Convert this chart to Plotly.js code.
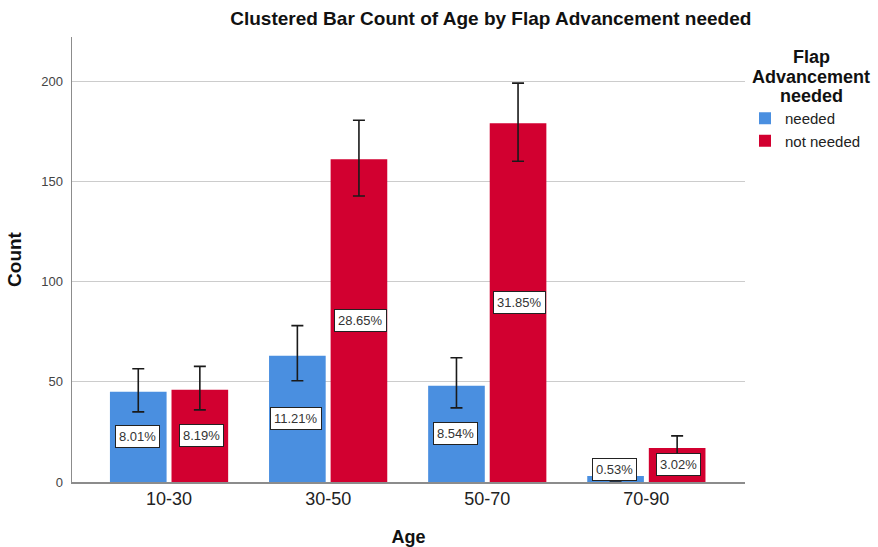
<!DOCTYPE html>
<html>
<head>
<meta charset="utf-8">
<script src="https://cdn.plot.ly/plotly-3.0.1.min.js"></script>
<style>
  html, body { margin: 0; padding: 0; background: #ffffff; }
  #chart { width: 878px; height: 547px; }
</style>
</head>
<body>
<div id="chart"></div>
<script>
// Age groups on the x axis
const ageGroups = ['10-30', '30-50', '50-70', '70-90'];

// Counts per age group
const neededCounts    = [45, 63, 48, 3];
const notNeededCounts = [46, 161, 179, 17];

// 95% confidence interval bounds for each count
const neededLow     = [35, 50.5, 37, 0.5];
const neededHigh    = [56.5, 78, 62, 6];
const notNeededLow  = [36, 142.7, 160, 11.8];
const notNeededHigh = [57.7, 180.5, 199, 23];

// Share of all cases, shown inside each bar
const neededPct    = ['8.01%', '11.21%', '8.54%', '0.53%'];
const notNeededPct = ['8.19%', '28.65%', '31.85%', '3.02%'];

const FONT = 'Liberation Sans, Arial, sans-serif';
const BLUE = '#4A8FE0';
const RED = '#D20030';

// Plot-area geometry in pixels
const PLOT_L = 72, PLOT_R = 745, PLOT_T = 37, PLOT_B = 482;
const PLOT_W = PLOT_R - PLOT_L, PLOT_H = PLOT_B - PLOT_T;

function errorBars(values, low, high) {
  return {
    type: 'data',
    symmetric: false,
    array: values.map((v, i) => high[i] - v),
    arrayminus: values.map((v, i) => v - low[i]),
    color: '#1a1a1a',
    thickness: 1.6,
    width: 6
  };
}

const traces = [
  {
    type: 'bar',
    name: 'needed',
    x: ageGroups,
    y: neededCounts,
    marker: { color: BLUE, line: { width: 0 } },
    error_y: errorBars(neededCounts, neededLow, neededHigh),
    hoverinfo: 'skip'
  },
  {
    type: 'bar',
    name: 'not needed',
    x: ageGroups,
    y: notNeededCounts,
    marker: { color: RED, line: { width: 0 } },
    error_y: errorBars(notNeededCounts, notNeededLow, notNeededHigh),
    hoverinfo: 'skip'
  }
];

// Boxed percentage labels placed at mid-height of each bar
const annotations = [];
function addPctLabels(values, labels, shift) {
  values.forEach((v, i) => {
    annotations.push({
      x: ageGroups[i],
      y: Math.max(v / 2, 6.3),
      xref: 'x', yref: 'y',
      xshift: shift,
      text: labels[i],
      showarrow: false,
      font: { family: FONT, size: 13, color: '#333333' },
      bgcolor: '#ffffff',
      bordercolor: '#222222',
      borderwidth: 1,
      borderpad: 3
    });
  });
}
addPctLabels(neededCounts, neededPct, -32);
addPctLabels(notNeededCounts, notNeededPct, 32);

// Legend heading, one line per annotation
const legendHeading = ['Flap', 'Advancement', 'needed'];
const headingY = [57, 77, 96];
legendHeading.forEach((line, k) => {
  annotations.push({
    xref: 'paper', yref: 'paper',
    x: (811 - PLOT_L) / PLOT_W,
    y: (PLOT_B - headingY[k]) / PLOT_H,
    xanchor: 'center', yanchor: 'middle',
    text: line,
    showarrow: false,
    font: { family: FONT, size: 18, color: '#111111', weight: 'bold' }
  });
});

const layout = {
  width: 878,
  height: 547,
  margin: { l: PLOT_L, r: 878 - PLOT_R, t: PLOT_T, b: 547 - PLOT_B, pad: 0, autoexpand: false },
  paper_bgcolor: '#ffffff',
  plot_bgcolor: '#ffffff',
  font: { family: FONT, color: '#222222' },
  title: {
    text: 'Clustered Bar Count of Age by Flap Advancement needed',
    font: { family: FONT, size: 19, color: '#111111', weight: 'bold' },
    xref: 'container', x: 0.559, xanchor: 'center',
    yref: 'container', y: 1 - 18 / 547, yanchor: 'middle'
  },
  barmode: 'group',
  bargap: 0.226,
  bargroupgap: 0.08,
  xaxis: {
    type: 'category',
    range: [-0.61, 3.62],
    showline: true,
    linecolor: '#8c8c8c',
    linewidth: 1.5,
    ticks: '',
    showgrid: false,
    zeroline: false,
    tickfont: { family: FONT, size: 18, color: '#222222' },
    title: {
      text: 'Age',
      font: { family: FONT, size: 18, color: '#111111', weight: 'bold' },
      standoff: 22
    }
  },
  yaxis: {
    range: [0, 222],
    tickvals: [0, 50, 100, 150, 200],
    showline: true,
    linecolor: '#8c8c8c',
    linewidth: 1.5,
    showgrid: true,
    gridcolor: '#cccccc',
    gridwidth: 1,
    zeroline: false,
    ticks: '',
    ticklabelstandoff: 5,
    tickfont: { family: FONT, size: 13, color: '#444444' },
    title: {
      text: 'Count',
      font: { family: FONT, size: 19, color: '#111111', weight: 'bold' },
      standoff: 14
    }
  },
  showlegend: true,
  legend: {
    x: (745 - PLOT_L) / PLOT_W,
    xanchor: 'left',
    y: (PLOT_B - 102) / PLOT_H,
    yanchor: 'top',
    font: { family: FONT, size: 15, color: '#222222' },
    bgcolor: 'rgba(0,0,0,0)',
    borderwidth: 0,
    tracegroupgap: 0,
    itemwidth: 30
  },
  annotations: annotations
};

Plotly.newPlot('chart', traces, layout, { staticPlot: true, displayModeBar: false });
</script>
</body>
</html>
